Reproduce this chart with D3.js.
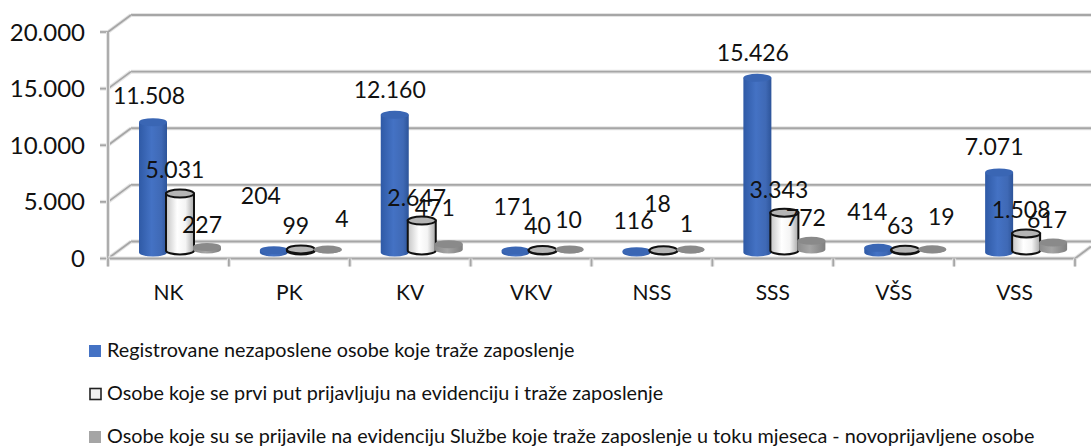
<!DOCTYPE html>
<html><head><meta charset="utf-8">
<script src="https://cdn.jsdelivr.net/npm/d3@7"></script>
<style>html,body{margin:0;padding:0;background:#fff}svg{display:block}text{font-family:Lato,"Open Sans",sans-serif;fill:#111}</style>
</head><body><svg id="c" width="1091" height="446"></svg>
<script>
const categories=["NK","PK","KV","VKV","NSS","SSS","VŠS","VSS"];
const registered=[11508,204,12160,171,116,15426,414,7071];
const firstTime=[5031,99,2647,40,18,3343,63,1508];
const newlyApplied=[227,4,471,10,1,772,19,617];
const yTicks=[0,5000,10000,15000,20000];
const legendNames=["Registrovane nezaposlene osobe koje traže zaposlenje","Osobe koje se prvi put prijavljuju na evidenciju i traže zaposlenje","Osobe koje su se prijavile na evidenciju Službe koje traže zaposlenje u toku mjeseca - novoprijavljene osobe"];
const seriesValues=[registered,firstTime,newlyApplied];
// manual label offsets [dx,dy] relative to each bar's top centre, as in the source chart
const labelNudge=[
 [[-4,-18],[-13,-46],[-5,-17],[-2,-36],[-3,-22],[-4.5,-17],[-11,-28],[-5,-17]],
 [[-5,-15.5],[-5,-15],[-5,-14.5],[-5,-16],[-6,-38],[-5.5,-15],[-5,-16],[-5,-15]],
 [[-5,-14],[14,-22.5],[-14,-28],[-1,-21],[-4,-17.5],[-5.5,-15],[9,-24],[-6,-14.5]]
];
const fmt=v=>d3.format(",")(v).replace(/,/g,".");
const svg=d3.select("#c");
const depthX=23,depthY=-17,rightEdge=1075,barShift=31.5;
const y=d3.scaleLinear().domain([0,20000]).range([258.5,32]);
const x=d3.scaleBand().domain(categories).range([108,rightEdge]);
const sx=d3.scaleBand().domain([0,1,2]).range([0,81]);
const defs=svg.append("defs");
function grad(id,stops){const g=defs.append("linearGradient").attr("id",id);
 stops.forEach(s=>g.append("stop").attr("offset",s[0]).attr("stop-color",s[1]));}
grad("g0",[[0,"#2f5aa6"],[.45,"#4472c4"],[.8,"#3f69b5"],[1,"#2d5499"]]);
grad("g1",[[0,"#c4c4c4"],[.4,"#ffffff"],[.7,"#f4f4f4"],[1,"#a8a8a8"]]);
grad("g2",[[0,"#8c8c8c"],[.45,"#a5a5a5"],[1,"#7f7f7f"]]);
const capFill=["#3a66b4","#b5b5b5","#8a8a8a"];
// walls & gridlines
const gl=svg.append("g").attr("fill","none");
function line(x1,y1,x2,y2){
 gl.append("line").attr("x1",x1).attr("y1",y1).attr("x2",x2).attr("y2",y2).attr("stroke","#e4e4e4").attr("stroke-width",4);
 gl.append("line").attr("x1",x1).attr("y1",y1).attr("x2",x2).attr("y2",y2).attr("stroke","#a6a6a6").attr("stroke-width",1.8);
}
yTicks.forEach(t=>{
 line(x.range()[0]+depthX,y(t)+depthY,1091,y(t)+depthY);
 line(x.range()[0],y(t),x.range()[0]+depthX,y(t)+depthY);
 line(x.range()[0]-8,y(t),x.range()[0],y(t));
});
line(x.range()[0],y(0),x.range()[0],y(20000));
line(x.range()[0],y(0),rightEdge,y(0));
line(rightEdge,y(0),1091,y(0)-12);
categories.forEach(c=>line(x(c),y(0),x(c),y(0)+8));
line(rightEdge,y(0),rightEdge,y(0)+8);
// y labels
svg.append("g").selectAll("text").data(yTicks).join("text")
 .attr("x",85).attr("y",d=>y(d)+8.5).attr("text-anchor","end").attr("font-size",24).text(fmt);
// x labels
svg.append("g").selectAll("text").data(categories).join("text")
 .attr("x",d=>x(d)+x.bandwidth()/2).attr("y",300).attr("text-anchor","middle").attr("font-size",21).text(d=>d);
// cylinders
const rx=14,ry=4;
const baseShift=[-6,-8,-9];
const barX=(s,i)=>x(categories[i])+sx(s)+sx.bandwidth()/2+barShift;
seriesValues.forEach((vals,s)=>{
 const g=svg.append("g");
 const stroke=s===1?"#111":"none",sw=s===1?2:0;
 vals.forEach((v,i)=>{
  const cx=barX(s,i);
  const by=y(0)+baseShift[s],h=y(0)-y(v),ty=by-h;
  g.append("path").attr("d",`M${cx-rx},${ty}L${cx-rx},${by}A${rx},${ry} 0 0 0 ${cx+rx},${by}L${cx+rx},${ty}Z`)
   .attr("fill",`url(#g${s})`).attr("stroke",stroke).attr("stroke-width",sw);
  g.append("ellipse").attr("cx",cx).attr("cy",ty).attr("rx",rx).attr("ry",ry)
   .attr("fill",capFill[s]).attr("stroke",stroke).attr("stroke-width",sw);
 });
});
// value labels
seriesValues.forEach((vals,s)=>{
 svg.append("g").selectAll("text").data(vals).join("text")
  .attr("x",(d,i)=>barX(s,i)+labelNudge[s][i][0])
  .attr("y",(d,i)=>y(0)+baseShift[s]-(y(0)-y(d))+labelNudge[s][i][1])
  .attr("text-anchor","middle").attr("font-size",23).text(fmt);
});
// legend
const ly=[351,394,437];
const lg=svg.append("g");
legendNames.forEach((n,i)=>{
 const r=lg.append("rect").attr("y",ly[i]-6);
 if(i===1) r.attr("x",90).attr("width",11).attr("height",11).attr("y",ly[i]-5.5).attr("fill","#f2f2f2").attr("stroke","#222").attr("stroke-width",1.6);
 else r.attr("x",89).attr("width",12).attr("height",12).attr("fill",i===0?"#4472c4":"#a5a5a5");
 lg.append("text").attr("x",107).attr("y",ly[i]+6).attr("font-size",19.8).text(n);
});
</script></body></html>
